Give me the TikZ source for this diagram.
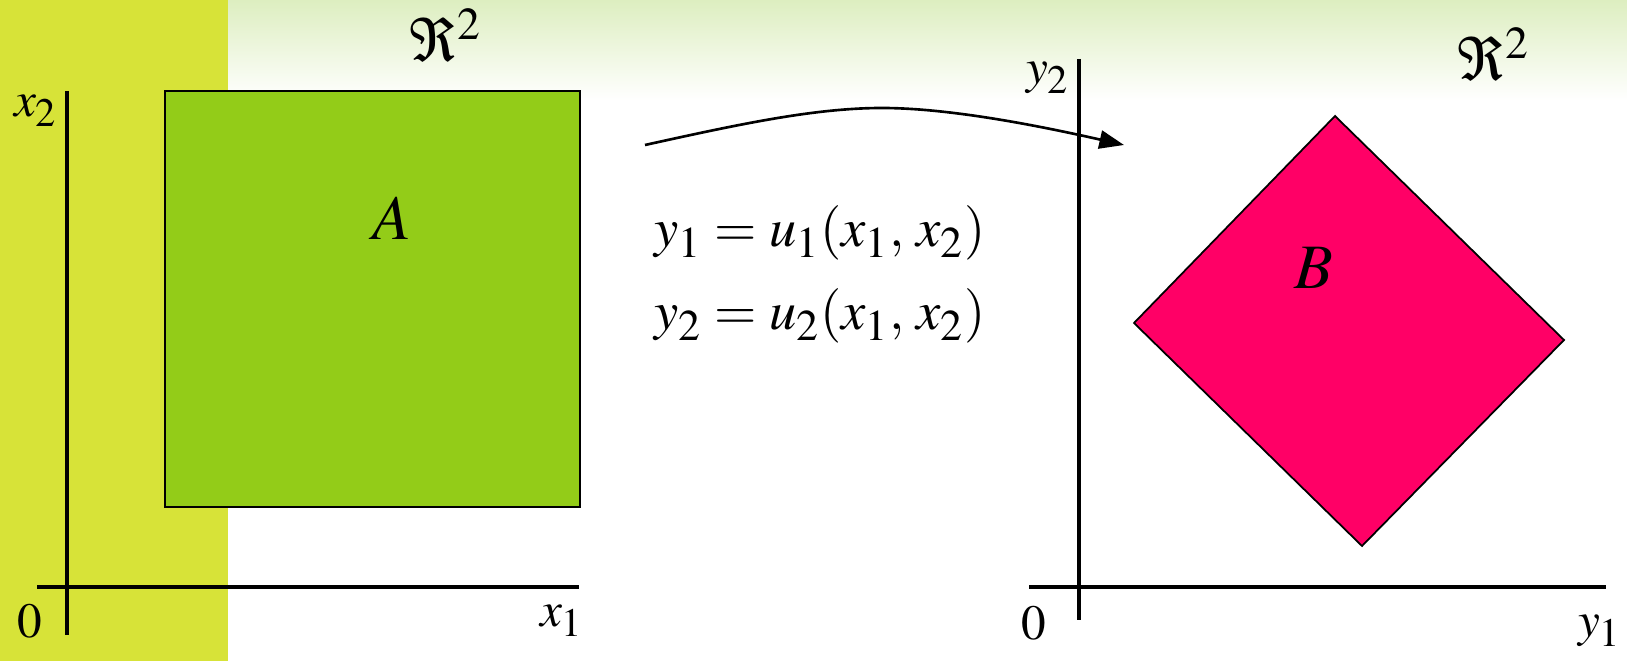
\documentclass[tikz,border=0pt]{standalone}
\usepackage{mathptmx}
\usetikzlibrary{arrows.meta,calc}
\DeclareMathSizes{14}{14}{11.5}{9}
\DeclareMathSizes{15.5}{15.5}{12.5}{10}
\DeclareMathSizes{17}{17}{13}{10}
\definecolor{mapBand}{HTML}{D7E338}
\definecolor{mapTop}{HTML}{DDEEC0}
\definecolor{mapGreen}{HTML}{93CC18}
\definecolor{mapPink}{HTML}{FF0066}
\tikzset{
 mapfig/.style={x=0.01cm,y=-0.01cm,line cap=butt,line join=miter},
 axis/.style={draw=black,line width=.9pt},
 region/.style={draw=black,line width=.5pt},
 lbl/.style={font=\fontsize{14}{16}\selectfont,inner sep=0pt},
 space/.style={font=\fontsize{17}{19}\selectfont,inner sep=0pt},
 big/.style={font=\fontsize{18}{20}\selectfont,inner sep=0pt},
 eqn/.style={font=\fontsize{15.5}{18}\selectfont,inner sep=0pt,anchor=west},
 flow/.style={draw=black,line width=.75pt,-{Triangle[length=7pt,width=5.2pt]}}
}
\begin{document}
\begin{tikzpicture}[mapfig]
 \useasboundingbox (0,0) rectangle (1627,661);
 % background
 \shade[top color=mapTop,bottom color=white] (228,0) rectangle (1627,100);
 \fill[mapBand] (0,0) rectangle (228,661);
 % left plane
 \coordinate (xtop) at (67,91);
 \coordinate (xbot) at (67,635);
 \coordinate (xl) at (37,587);
 \coordinate (xr) at (579,587);
 \draw[axis] (xtop) -- (xbot);
 \draw[axis] (xl) -- (xr);
 \filldraw[region,fill=mapGreen] (165,91) rectangle (580,507);
 \node[big] (lblA) at (392,218) {$A$};
 \node[lbl] (zeroL) at (30,621) {$0$};
 \node[lbl] (xone) at (562,621) {$x_1$};
 \node[lbl] (xtwo) at (36,111) {$x_2$};
 \node[space] (spaceL) at (446,36) {$\Re^2$};
 % map
 \coordinate (mapS) at (645,145);
 \coordinate (mapP) at (882,108);
 \coordinate (mapE) at (1124,145);
 \draw[flow] (mapS) .. controls (740,124) and (815,108) .. (mapP)
   .. controls (950,108) and (1040,126) .. (mapE);
 \node[eqn] (eqA) at (654,233) {$y_1 = u_1(x_1,\, x_2)$};
 \node[eqn] (eqB) at (654,316) {$y_2 = u_2(x_1,\, x_2)$};
 % right plane
 \coordinate (ytop) at (1079,59);
 \coordinate (ybot) at (1079,620);
 \coordinate (yl) at (1029,587);
 \coordinate (yr) at (1606,587);
 \draw[axis] (ytop) -- (ybot);
 \draw[axis] (yl) -- (yr);
 \filldraw[region,fill=mapPink] (1335,116) -- (1564,340) -- (1362,546) -- (1134,323) -- cycle;
 \node[big] (lblB) at (1314,268) {$B$};
 \node[lbl] (zeroR) at (1034,623) {$0$};
 \node[lbl] (yone) at (1600,631) {$y_1$};
 \node[lbl] (ytwo) at (1048,78) {$y_2$};
 \node[space] (spaceR) at (1494,55) {$\Re^2$};
\end{tikzpicture}
\end{document}
